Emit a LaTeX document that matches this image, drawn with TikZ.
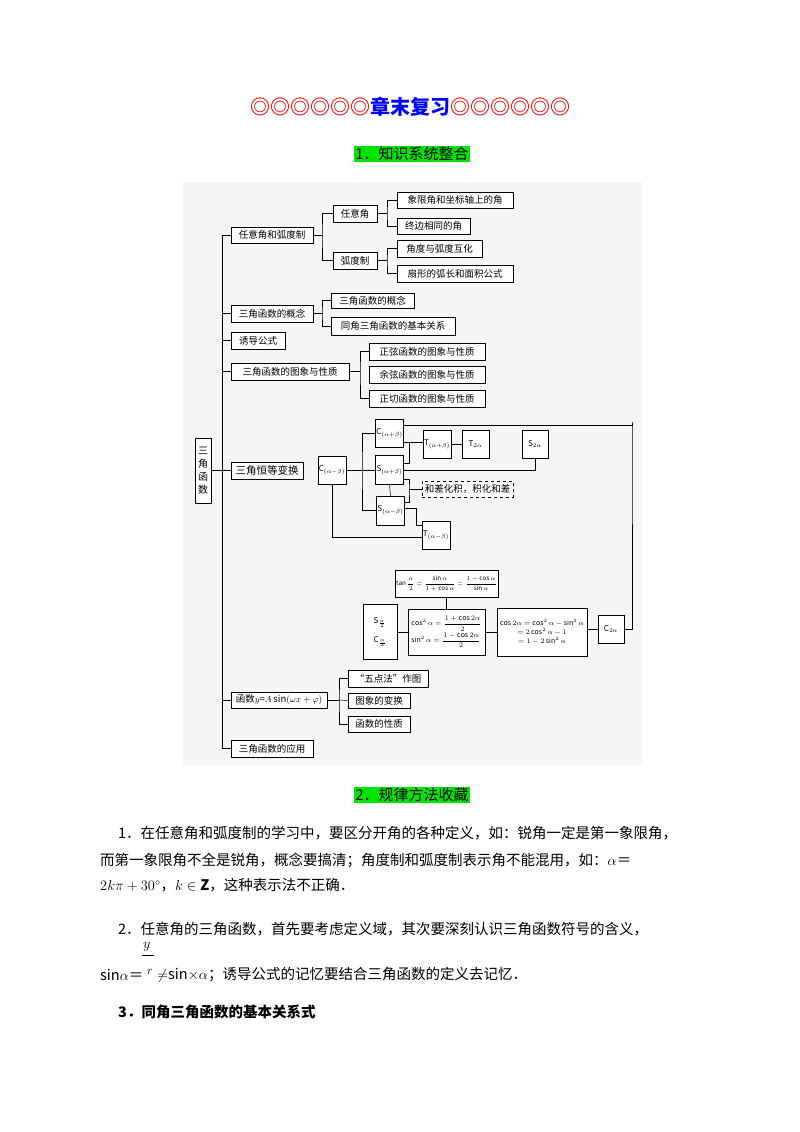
\documentclass[tikz,border=0pt]{standalone}
\usepackage{amsmath}
\usepackage{fontspec}
\setmainfont{Noto Sans CJK SC}
\usetikzlibrary{calc}
\begin{document}
\begin{tikzpicture}[x=1pt,y=-1pt,
  bx/.style={draw,fill=white,line width=0.5pt,inner sep=1pt,font=\fontsize{9.5}{11}\selectfont},
  sb/.style={bx,minimum width=27,minimum height=28,font=\fontsize{8}{9}\selectfont},
  fm/.style={bx,font=\fontsize{7}{8}\selectfont},
  ln/.style={line width=0.5pt},
  body/.style={anchor=west,inner sep=0,font=\fontsize{14.5}{16}\selectfont},
  head/.style={fill=green!85!black!70!green,inner sep=1.5pt,font=\fontsize{15}{17}\selectfont}]
\useasboundingbox (0,0) rectangle (800,1132);
% title
\node (title) at (410,107) {\fontsize{20}{22}\selectfont\bfseries{\color{red}◎◎◎◎◎◎}{\color{blue}章末复习}{\color{red}◎◎◎◎◎◎}};
\node[head] (h1) at (412,154) {1．知识系统整合};
\fill[black!4] (183,182) rectangle (642,765);
% level 1
\node[bx,minimum width=82,minimum height=16] (ryhd) at (272,235) {任意角和弧度制};
\node[bx,minimum width=44,minimum height=17] (ryj) at (355,213.5) {任意角};
\node[bx,minimum width=44,minimum height=17] (hdz) at (355,260.5) {弧度制};
\node[bx,minimum width=116,minimum height=16] (xx) at (455,200) {象限角和坐标轴上的角};
\node[bx,minimum width=73,minimum height=16] (zb) at (433.5,226) {终边相同的角};
\node[bx,minimum width=85,minimum height=17] (jd) at (439.5,248.5) {角度与弧度互化};
\node[bx,minimum width=116,minimum height=17] (sx) at (455,273.5) {扇形的弧长和面积公式};
\node[bx,minimum width=82,minimum height=17] (gn1) at (272,313.5) {三角函数的概念};
\node[bx,minimum width=83,minimum height=15] (gn2) at (372.5,300.5) {三角函数的概念};
\node[bx,minimum width=124,minimum height=18] (tj) at (393,326) {同角三角函数的基本关系};
\node[bx,minimum width=54,minimum height=17] (yd) at (258,340.5) {诱导公式};
\node[bx,minimum width=118,minimum height=17] (tx) at (290,371.5) {三角函数的图象与性质};
\node[bx,minimum width=116,minimum height=17] (zx) at (427,351.5) {正弦函数的图象与性质};
\node[bx,minimum width=116,minimum height=17] (yx) at (427,375) {余弦函数的图象与性质};
\node[bx,minimum width=116,minimum height=17] (qx) at (427,398.5) {正切函数的图象与性质};
\node[bx,minimum width=16,minimum height=65,align=center,font=\fontsize{10}{13}\selectfont] (root) at (203,470.5) {三\\角\\函\\数};
\node[bx,minimum width=72,minimum height=17,font=\fontsize{10.5}{12}\selectfont] (hd) at (267,470.5) {三角恒等变换};
\node[sb] (cmb) at (332,470) {C$_{(\alpha-\beta)}$};
\node[sb] (cpb) at (389.5,433) {C$_{(\alpha+\beta)}$};
\node[sb] (tpb) at (437,444) {T$_{(\alpha+\beta)}$};
\node[sb] (t2a) at (475.5,444) {T$_{2\alpha}$};
\node[sb,minimum width=26] (s2a) at (535,444) {S$_{2\alpha}$};
\node[sb,minimum height=29] (spb) at (389.5,470) {S$_{(\alpha+\beta)}$};
\node[bx,dashed,minimum width=91,minimum height=16] (hc) at (467.5,489) {和差化积，积化和差};
\node[sb,minimum height=29] (smb) at (390.5,510.5) {S$_{(\alpha-\beta)}$};
\node[sb,minimum width=26] (tmb) at (436,535) {T$_{(\alpha-\beta)}$};
\node[fm,minimum width=101,minimum height=27,font=\fontsize{6.3}{7}\selectfont] (tan) at (446.5,583.5) {$\tan\dfrac{\alpha}{2}=\dfrac{\sin\alpha}{1+\cos\alpha}=\dfrac{1-\cos\alpha}{\sin\alpha}$};
\node[fm,minimum width=34,minimum height=55,align=left,font=\fontsize{8}{9}\selectfont] (sc) at (380,632) {S$_{\frac{\alpha}{2}}$\\[8pt]C$_{\frac{\alpha}{2}}$};
\node[fm,minimum width=77,minimum height=46,align=left] (cs) at (446.5,632) {$\cos^2\alpha=\dfrac{1+\cos2\alpha}{2}$\\[1pt]$\sin^2\alpha=\dfrac{1-\cos2\alpha}{2}$};
\node[fm,minimum width=90,minimum height=48,align=center] (c2box) at (542,632) {$\cos2\alpha=\cos^2\alpha-\sin^2\alpha$\\[1pt]$=2\cos^2\alpha-1$\\[1pt]$=1-2\sin^2\alpha$};
\node[sb,minimum width=26] (c2a) at (611,629) {C$_{2\alpha}$};
\node[bx,minimum width=96,minimum height=16] (asin) at (279,700) {函数$y$=$A\sin(\omega x+\varphi)$};
\node[bx,minimum width=80,minimum height=17] (wd) at (388,678.5) {“五点法”作图};
\node[bx,minimum width=62,minimum height=15] (bh) at (379,700.5) {图象的变换};
\node[bx,minimum width=62,minimum height=16] (xz) at (379,724) {函数的性质};
\node[bx,minimum width=82,minimum height=17] (yy) at (272,748.5) {三角函数的应用};
% connectors
\coordinate (tr) at (222,235);
\coordinate (k1) at (322,235);
\coordinate (k2) at (387,213.5);
\coordinate (k3) at (387,260.5);
\coordinate (k4) at (322,313.5);
\coordinate (k5) at (360,371.5);
\coordinate (bus) at (362,470);
\coordinate (j1) at (409,442);
\coordinate (j2) at (409,489);
\coordinate (rt) at (632,422);
\coordinate (k6) at (339,700);
\draw[ln] (ryhd.west) -- (tr) |- (yy.west);
\foreach \n in {gn1,yd,tx,hd,asin} \draw[ln] (\n.west) -- (tr |- \n.west);
\draw[ln] (root.east) -- (hd.west);
\draw[ln] (ryhd.east) -- (k1); \draw[ln] (ryj.west) -| (k1) |- (hdz.west);
\draw[ln] (ryj.east) -- (k2); \draw[ln] (xx.west) -| (k2) |- (zb.west);
\draw[ln] (hdz.east) -- (k3); \draw[ln] (jd.west) -| (k3) |- (sx.west);
\draw[ln] (gn1.east) -- (k4); \draw[ln] (gn2.west) -| (k4) |- (tj.west);
\draw[ln] (tx.east) -- (k5); \draw[ln] (zx.west) -| (k5) |- (qx.west);
\draw[ln] (asin.east) -- (k6); \draw[ln] (wd.west) -| (k6) |- (xz.west); \draw[ln] (k6) -- (bh.west);
\draw[ln] (cmb.east) -- (spb.west);
\draw[ln] (cpb.west) -| (bus) |- (smb.west);
\draw[ln] ([yshift=8pt]cpb.east) -- ([yshift=8pt]cpb.east -| rt) -- (rt) |- (c2a.east);
\draw[ln] (cpb.east |- j1) -- (tpb.west |- j1);
\draw[ln] (j1) |- ([yshift=7pt]spb.east);
\draw[ln] (tpb.east) -- (t2a.west);
\draw[ln] (spb.east) -| (s2a.south);
\draw[ln] ([yshift=-9pt]spb.east) -| (j2) |- ([yshift=8pt]smb.east);
\draw[ln] (j2) -- (hc.west);
\draw[ln] (spb.south) -- (smb.north);
\draw[ln] ([yshift=2pt]smb.east) -- ++(11,0) |- ([yshift=10pt]tmb.west);
\draw[ln] (cmb.south) |- ([yshift=-2pt]tmb.west);
\draw[ln] (tan.south) -- (cs.north);
\draw[ln] (sc.east) -- (cs.west);
\draw[ln] (cs.east) -- (c2box.west);
\draw[ln] (c2box.east |- c2a) -- (c2a.west);
% section 2
\node[head] (h2) at (412,795) {2．规律方法收藏};
\node[body] (p1a) at (118,833) {1．在任意角和弧度制的学习中，要区分开角的各种定义，如：锐角一定是第一象限角，};
\node[body] (p1b) at (100,860) {而第一象限角不全是锐角，概念要搞清；角度制和弧度制表示角不能混用，如：$\alpha$＝};
\node[body] (p1c) at (100,885) {$2k\pi+30^\circ$，$k\in\mathbf{Z}$，这种表示法不正确．};
\node[body] (p2a) at (118,929) {2．任意角的三角函数，首先要考虑定义域，其次要深刻认识三角函数符号的含义，};
\node[body] (p2y) at (143,947) {$y$};
\draw[ln] (p2y.south west) ++(-1,4) -- ++(12,0);
\node[body] (p2b) at (100,975) {sin$\alpha$＝};
\node[body,font=\fontsize{12}{14}\selectfont] (p2r) at (147,972) {$r$};
\node[body] (p2c) at (157,975) {$\neq$sin$\times\alpha$；诱导公式的记忆要结合三角函数的定义去记忆．};
\node[body,font=\fontsize{14.5}{16}\selectfont\bfseries] (p3) at (118,1012) {3．同角三角函数的基本关系式};
\end{tikzpicture}
\end{document}
